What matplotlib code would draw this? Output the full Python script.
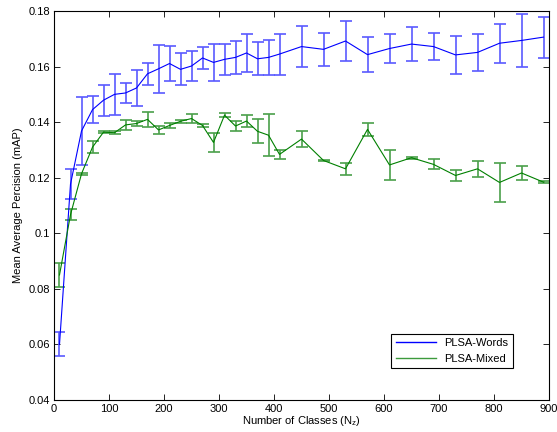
import matplotlib
matplotlib.use("Agg")
import matplotlib.pyplot as plt
from matplotlib.lines import Line2D
import numpy as np

plt.rcParams["font.family"] = ["Liberation Sans", "DejaVu Sans"]
plt.rcParams["mathtext.default"] = "regular"

# number of classes (x values)
n_classes = [10, 30, 50, 70, 90, 110, 130, 150, 170, 190, 210, 230, 250, 270,
             290, 310, 330, 350, 370, 390, 410, 450, 490, 530, 570, 610, 650,
             690, 730, 770, 810, 850, 890]

words_map = [0.0600, 0.1177, 0.1368, 0.1445, 0.1479, 0.1500, 0.1505, 0.1523,
             0.1574, 0.1592, 0.1611, 0.1590, 0.1602, 0.1631, 0.1615, 0.1626,
             0.1633, 0.1649, 0.1628, 0.1633, 0.1645, 0.1672, 0.1662, 0.1692,
             0.1643, 0.1665, 0.1681, 0.1672, 0.1642, 0.1651, 0.1684, 0.1694,
             0.1706]
words_err = [0.0043, 0.0055, 0.0123, 0.0049, 0.0056, 0.0074, 0.0037, 0.0066,
             0.0040, 0.0086, 0.0063, 0.0058, 0.0055, 0.0041, 0.0068, 0.0055,
             0.0060, 0.0069, 0.0059, 0.0063, 0.0074, 0.0073, 0.0059, 0.0072,
             0.0063, 0.0053, 0.0061, 0.0050, 0.0069, 0.0067, 0.0070, 0.0095,
             0.0074]

mixed_map = [0.0850, 0.1067, 0.1214, 0.1310, 0.1364, 0.1362, 0.1390, 0.1395,
             0.1410, 0.1372, 0.1388, 0.1403, 0.1413, 0.1388, 0.1327, 0.1425,
             0.1386, 0.1404, 0.1367, 0.1353, 0.1284, 0.1339, 0.1262, 0.1232,
             0.1374, 0.1246, 0.1272, 0.1248, 0.1208, 0.1232, 0.1183, 0.1217,
             0.1184]
mixed_err = [0.0043, 0.0019, 0.0003, 0.0022, 0.0004, 0.0006, 0.0018, 0.0009,
             0.0027, 0.0015, 0.0010, 0.0005, 0.0016, 0.0007, 0.0035, 0.0008,
             0.0017, 0.0021, 0.0043, 0.0075, 0.0016, 0.0028, 0.0003, 0.0022,
             0.0024, 0.0055, 0.0003, 0.0018, 0.0021, 0.0029, 0.0071, 0.0025,
             0.0004]

fig = plt.figure(figsize=(5.57, 4.32), dpi=100)
ax = fig.add_axes([54 / 557, 32 / 432, 495 / 557, 389 / 432])

ax.errorbar(n_classes, words_map, yerr=words_err, color="#0000ff", lw=0.8,
            elinewidth=1.2, ecolor="#5a5aff", capsize=4, capthick=1.2)
ax.errorbar(n_classes, mixed_map, yerr=mixed_err, color="#008000", lw=0.8,
            elinewidth=1.2, ecolor="#4aa04a", capsize=4, capthick=1.2)

ax.set_xlim(0, 900)
ax.set_ylim(0.04, 0.18)
ax.set_xticks(np.arange(0, 901, 100))
ax.set_yticks(np.arange(0.04, 0.181, 0.02))
ax.set_yticklabels(["%g" % round(v, 2) for v in np.arange(0.04, 0.181, 0.02)])
ax.tick_params(direction="in", top=True, right=True, labelsize=8, length=4,
               width=0.6, pad=3)
for s in ax.spines.values():
    s.set_linewidth(0.8)

ax.set_xlabel("Number of Classes (N$_z$)", fontsize=8, labelpad=0)
ax.set_ylabel("Mean Average Percision (mAP)", fontsize=8, labelpad=4)

handles = [Line2D([], [], color="#0000ff", lw=1.0),
           Line2D([], [], color="#3c9a3c", lw=1.0)]
leg = ax.legend(handles, ["PLSA-Words", "PLSA-Mixed"], loc="lower right",
                bbox_to_anchor=(0.927, 0.082), fontsize=8, fancybox=False,
                edgecolor="black", framealpha=1, handlelength=3.6,
                borderaxespad=0)
leg.get_frame().set_linewidth(0.8)

fig.savefig("out.png", dpi=100)
